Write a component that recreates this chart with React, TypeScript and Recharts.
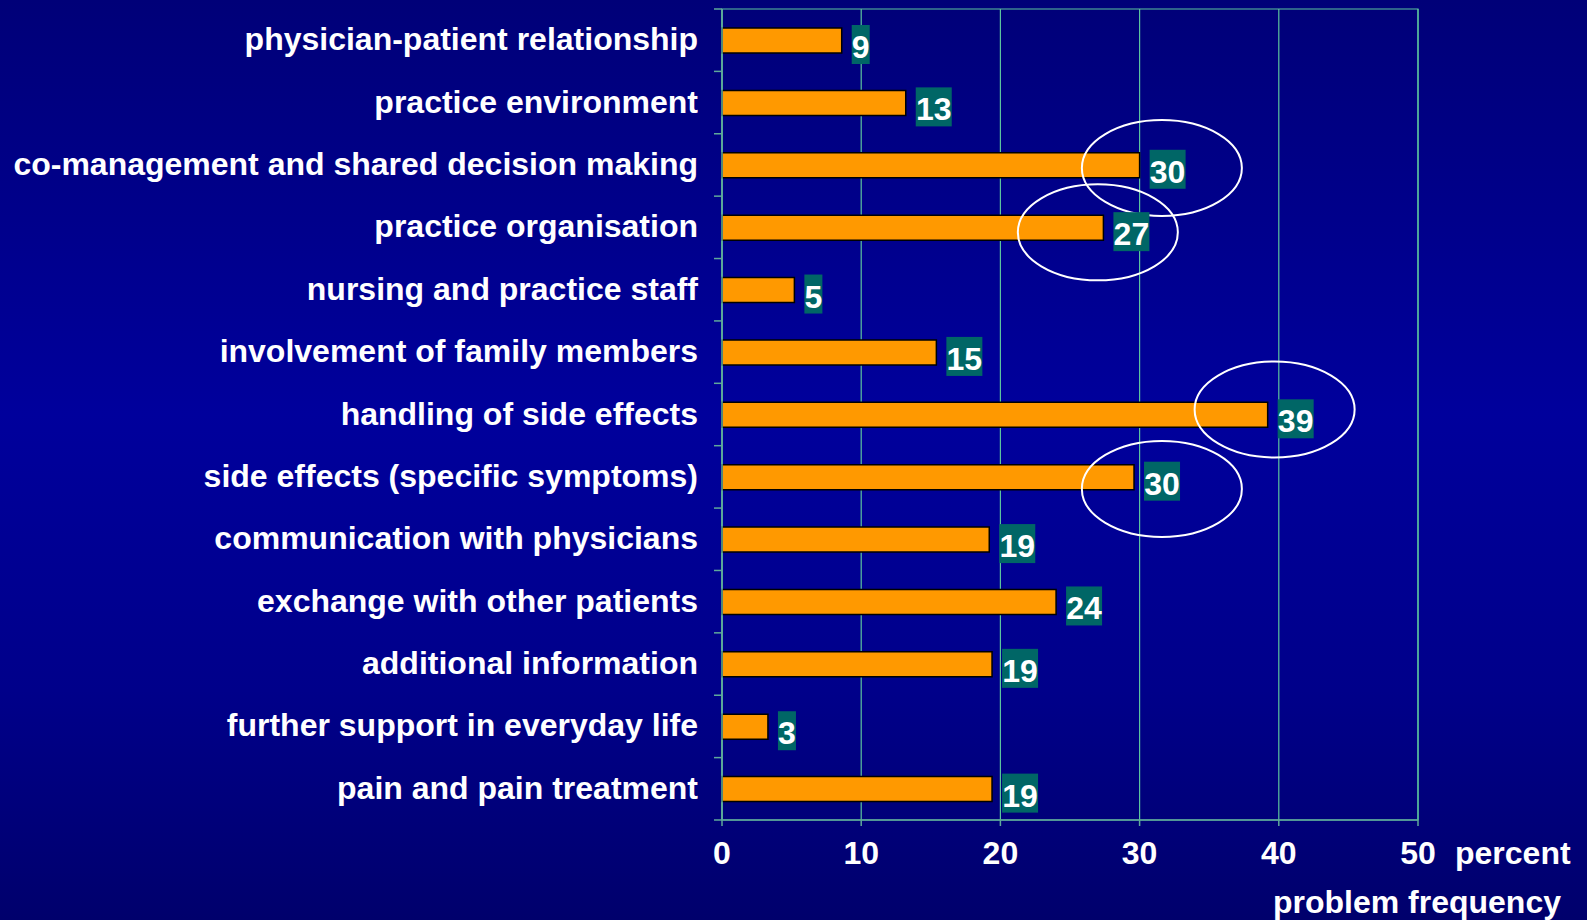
import React from "react";
import {
  BarChart,
  Bar,
  XAxis,
  YAxis,
  CartesianGrid,
  LabelList,
  ReferenceArea,
  ReferenceDot,
} from "recharts";

const categories = [
  "physician-patient relationship",
  "practice environment",
  "co-management and shared decision making",
  "practice organisation",
  "nursing and practice staff",
  "involvement of family members",
  "handling of side effects",
  "side effects (specific symptoms)",
  "communication with physicians",
  "exchange with other patients",
  "additional information",
  "further support in everyday life",
  "pain and pain treatment",
];

// percent
const frequencies = [8.6, 13.2, 30.0, 27.4, 5.2, 15.4, 39.2, 29.6, 19.2, 24.0, 19.4, 3.3, 19.4];

const xTicks = [0, 10, 20, 30, 40, 50];

// circled items (center in data units, small vertical nudge)
const highlights = [
  { category: "co-management and shared decision making", at: 31.6, dy: 3 },
  { category: "practice organisation", at: 27.0, dy: 5 },
  { category: "handling of side effects", at: 39.7, dy: -5 },
  { category: "side effects (specific symptoms)", at: 31.6, dy: 12 },
];

const data = categories.map((name, i) => ({ name, value: frequencies[i] }));

const FONT = "Arial, 'Liberation Sans', Helvetica, sans-serif";
const GRID = "#5cc49e";
const AXIS = "#5fa99a";

function CategoryTick(props: any) {
  const { x, y, payload, index } = props;
  const half = payload?.offset ? payload.offset : 31.2;
  const last = index === categories.length - 1;
  return (
    <g>
      <line x1={x - 8} x2={x} y1={y - half} y2={y - half} stroke={AXIS} strokeWidth={1.5} />
      {last && <line x1={x - 8} x2={x} y1={y + half} y2={y + half} stroke={AXIS} strokeWidth={1.5} />}
      <text
        x={x - 24}
        y={y + 10}
        textAnchor="end"
        fill="#fff"
        fontSize={32}
        fontWeight="bold"
        fontFamily={FONT}
      >
        {payload.value}
      </text>
    </g>
  );
}

function PercentTick(props: any) {
  const { x, y, payload } = props;
  const isLast = payload.value === xTicks[xTicks.length - 1];
  return (
    <g>
      <text x={x} y={y + 36} textAnchor="middle" fill="#fff" fontSize={32} fontWeight="bold" fontFamily={FONT}>
        {payload.value}
      </text>
      {isLast && (
        <>
          <text x={x + 37} y={y + 36} fill="#fff" fontSize={32} fontWeight="bold" fontFamily={FONT}>
            percent
          </text>
          <text x={x + 143} y={y + 85} textAnchor="end" fill="#fff" fontSize={32} fontWeight="bold" fontFamily={FONT}>
            problem frequency
          </text>
        </>
      )}
    </g>
  );
}

function ValueBadge(props: any) {
  const x = Number(props.x);
  const y = Number(props.y);
  const width = Number(props.width);
  const text = String(Math.round(Number(props.value)));
  const w = text.length * 18;
  const bx = x + width + 10;
  return (
    <g>
      <rect x={bx} y={y - 3} width={w} height={39} fill="#006666" />
      <text x={bx + w / 2} y={y + 30} textAnchor="middle" fill="#fff" fontSize={32} fontWeight="bold" fontFamily={FONT}>
        {text}
      </text>
    </g>
  );
}

const ellipseShape = (dy: number) => (p: any) =>
  <ellipse cx={p.cx} cy={p.cy + dy} rx={80} ry={48} fill="none" stroke="#fff" strokeWidth={2} />;

export default function App() {
  return (
    <div
      style={{
        position: "absolute",
        left: 0,
        top: 0,
        width: 1587,
        height: 920,
        background: "linear-gradient(to bottom, #000078 0%, #00009c 45%, #00008a 75%, #00006c 100%)",
      }}
    >
      <BarChart
        layout="vertical"
        width={1587}
        height={920}
        data={data}
        margin={{ top: 9, right: 169, bottom: 0, left: 0 }}
      >
        <CartesianGrid horizontal={false} stroke={GRID} strokeWidth={1.2} />
        <XAxis
          type="number"
          domain={[0, 50]}
          ticks={xTicks}
          height={100}
          tickSize={6}
          tickMargin={2}
          axisLine={{ stroke: AXIS, strokeWidth: 1.5 }}
          tickLine={{ stroke: AXIS, strokeWidth: 1.5 }}
          tick={<PercentTick />}
          interval={0}
        />
        <YAxis
          type="category"
          dataKey="name"
          width={722}
          tickSize={0}
          tickMargin={0}
          tickLine={false}
          axisLine={{ stroke: AXIS, strokeWidth: 1.5 }}
          tick={<CategoryTick />}
          interval={0}
        />
        <ReferenceArea x1={0} x2={50} fill="none" stroke={GRID} strokeWidth={1.2} />
        <Bar dataKey="value" fill="#ff9900" stroke="#000" strokeWidth={1.5} barSize={25} isAnimationActive={false}>
          <LabelList dataKey="value" content={<ValueBadge />} />
        </Bar>
        {highlights.map((h) => (
          <ReferenceDot key={h.category} x={h.at} y={h.category} r={1} shape={ellipseShape(h.dy)} />
        ))}
      </BarChart>
    </div>
  );
}
